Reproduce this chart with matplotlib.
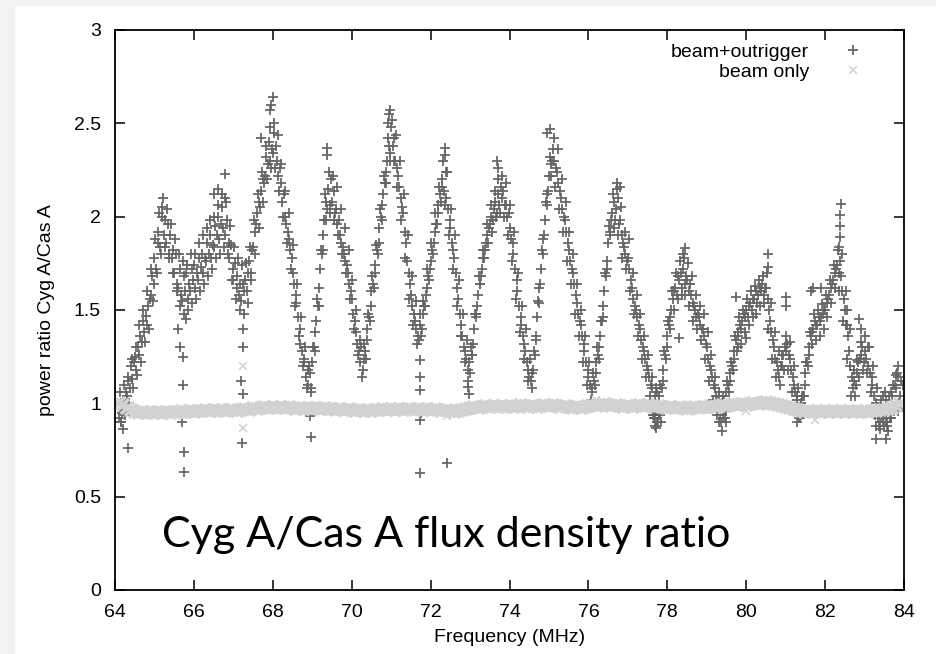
import numpy as np
import matplotlib
matplotlib.use("Agg")
import matplotlib.pyplot as plt
from matplotlib.patches import Rectangle

plt.rcParams['font.family'] = ['Liberation Sans', 'DejaVu Sans']

# sampling grid: every 0.1 MHz, five readings per step
grid_start = 64.1
grid_stop = 83.9
main_offsets = [0.0, 0.04, 0.08]
hi_offset = 0.02
lo_offset = 0.06

# beam+outrigger readings along the trace (three per 0.1 MHz step)
outrigger = [
    # 64.1 - 64.9
    .92, 1.0, .95, 1.02, .96, 1.06, 1.04, 1.12, 1.08, 1.2, 1.13, 1.22, 1.25, 1.18, 1.3,
    1.26, 1.36, 1.33, 1.44, 1.38, 1.47, 1.42, 1.52, 1.56, 1.58, 1.68, 1.64,
    # 65
    1.78, 1.72, 1.86, 1.92, 1.84, 2.0, 2.05, 1.9, 1.98, 1.86, 1.96, 1.8, 1.9, 1.78, 1.82,
    1.7, 1.8, 1.64, 1.62, 1.72, 1.58, 1.55, 1.68, 1.6, 1.7, 1.56, 1.64, 1.6, 1.72, 1.66,
    # 66
    1.74, 1.62, 1.7, 1.66, 1.78, 1.73, 1.8, 1.7, 1.78, 1.76, 1.86, 1.8, 1.9, 1.78, 1.85,
    1.84, 1.95, 1.9, 2.0, 1.88, 1.96, 2.05, 1.94, 2.1, 1.9, 1.98, 1.86, 1.78, 1.85, 1.72,
    # 67
    1.66, 1.75, 1.62, 1.68, 1.58, 1.64, 1.55, 1.64, 1.6, 1.66, 1.6, 1.7, 1.76, 1.7, 1.82,
    1.84, 1.92, 1.96, 2.02, 2.08, 2.05, 2.14, 2.2, 2.18, 2.22, 2.32, 2.28, 2.4, 2.3, 2.36,
    # 68
    2.34, 2.45, 2.38, 2.3, 2.22, 2.26, 2.18, 2.08, 2.12, 2.0, 1.96, 1.92, 1.88, 1.82, 1.78,
    1.7, 1.64, 1.58, 1.54, 1.46, 1.4, 1.32, 1.28, 1.22, 1.24, 1.14, 1.18, 1.1, 1.16, 1.08,
    # 69
    1.22, 1.3, 1.38, 1.44, 1.52, 1.62, 1.72, 1.8, 1.9, 1.98, 2.08, 2.04, 2.15, 2.06, 2.2,
    2.08, 2.14, 2.02, 2.04, 1.96, 1.98, 1.9, 1.86, 1.84, 1.8, 1.76, 1.74, 1.7, 1.64, 1.6,
    # 70
    1.56, 1.48, 1.44, 1.38, 1.32, 1.28, 1.22, 1.3, 1.18, 1.24, 1.28, 1.34, 1.4, 1.46, 1.52,
    1.6, 1.64, 1.7, 1.74, 1.82, 1.86, 1.94, 2.0, 2.06, 2.12, 2.18, 2.24, 2.3, 2.38, 2.34,
    # 71
    2.48, 2.38, 2.42, 2.3, 2.26, 2.22, 2.16, 2.1, 2.05, 2.02, 1.92, 1.86, 1.76, 1.7, 1.64,
    1.58, 1.52, 1.48, 1.44, 1.4, 1.36, 1.34, 1.42, 1.4, 1.48, 1.52, 1.58, 1.62, 1.68, 1.72,
    # 72
    1.76, 1.82, 1.86, 1.92, 1.96, 2.02, 2.06, 2.12, 2.16, 2.2, 2.14, 2.24, 2.1, 2.04, 1.98,
    1.94, 1.86, 1.82, 1.78, 1.7, 1.62, 1.56, 1.48, 1.42, 1.36, 1.3, 1.28, 1.24, 1.18, 1.22,
    # 73
    1.16, 1.26, 1.32, 1.4, 1.46, 1.52, 1.58, 1.64, 1.68, 1.72, 1.78, 1.82, 1.86, 1.9, 1.94,
    1.96, 2.0, 1.98, 2.04, 2.08, 2.02, 2.12, 2.06, 2.16, 2.1, 2.14, 2.06, 2.06, 2.0, 2.02,
    # 74
    1.94, 1.88, 1.86, 1.8, 1.72, 1.66, 1.6, 1.52, 1.46, 1.42, 1.36, 1.32, 1.28, 1.22, 1.18,
    1.14, 1.12, 1.16, 1.18, 1.26, 1.36, 1.46, 1.54, 1.64, 1.72, 1.8, 1.9, 1.98, 2.06, 2.14,
    # 75
    2.22, 2.28, 2.3, 2.36, 2.3, 2.26, 2.24, 2.18, 2.14, 2.1, 2.04, 2.0, 1.98, 1.92, 1.86,
    1.82, 1.76, 1.72, 1.7, 1.64, 1.58, 1.54, 1.48, 1.44, 1.42, 1.36, 1.32, 1.28, 1.22, 1.18,
    # 76
    1.14, 1.1, 1.08, 1.06, 1.12, 1.16, 1.22, 1.26, 1.3, 1.36, 1.44, 1.52, 1.6, 1.68, 1.76,
    1.86, 1.92, 1.98, 2.02, 2.08, 1.98, 2.04, 2.1, 1.96, 1.98, 1.9, 1.86, 1.84, 1.8, 1.76,
    # 77
    1.78, 1.72, 1.66, 1.62, 1.56, 1.52, 1.5, 1.46, 1.42, 1.4, 1.34, 1.3, 1.28, 1.24, 1.2,
    1.18, 1.14, 1.1, 1.08, 0.94, 1.04, 0.92, 1.06, 0.95, 1.04, 0.9, 1.12, 1.18, 1.26, 1.3,
    # 78
    1.36, 1.42, 1.46, 1.5, 1.56, 1.6, 1.62, 1.58, 1.68, 1.66, 1.7, 1.62, 1.72, 1.64, 1.68,
    1.66, 1.6, 1.64, 1.58, 1.54, 1.52, 1.5, 1.46, 1.48, 1.46, 1.42, 1.4, 1.4, 1.36, 1.32,
    # 79
    1.3, 1.24, 1.2, 1.18, 1.14, 1.1, 1.08, 1.04, 1.02, 1.04, 0.94, 1.0, 0.92, 1.02, 0.96,
    1.06, 1.1, 1.12, 1.16, 1.2, 1.24, 1.28, 1.34, 1.36, 1.38, 1.42, 1.4, 1.44, 1.48, 1.46,
    # 80
    1.5, 1.46, 1.52, 1.54, 1.5, 1.56, 1.56, 1.6, 1.54, 1.58, 1.62, 1.6, 1.64, 1.58, 1.62,
    1.62, 1.56, 1.5, 1.44, 1.38, 1.34, 1.3, 1.24, 1.22, 1.18, 1.14, 1.2, 1.2, 1.26, 1.3,
    # 81
    1.28, 1.32, 1.26, 1.24, 1.18, 1.14, 1.1, 1.06, 1.04, 1.02, 0.94, 1.0, 0.96, 1.04, 1.1,
    1.16, 1.22, 1.26, 1.3, 1.36, 1.38, 1.4, 1.44, 1.42, 1.42, 1.46, 1.44, 1.46, 1.48, 1.5,
    # 82
    1.5, 1.54, 1.56, 1.58, 1.62, 1.64, 1.66, 1.7, 1.72, 1.74, 1.7, 1.76, 1.68, 1.6, 1.56,
    1.5, 1.42, 1.36, 1.28, 1.2, 1.14, 1.08, 1.12, 1.1, 1.16, 1.22, 1.24, 1.26, 1.3, 1.22,
    # 83
    1.28, 1.24, 1.3, 1.2, 1.16, 1.14, 1.1, 1.04, 0.98, 1.0, 0.92, 0.96, 0.9, 0.96, 1.04,
    0.94, 1.02, 0.9, 0.98, 0.92, 1.06, 1.04, 0.96, 1.1, 1.08, 1.14, 1.0, 1.04, 0.98, 1.1,
]

# upper fringe of the beam+outrigger band (one per step)
outrigger_hi = [
    1.06, 1.1, 1.14, 1.24, 1.3, 1.42, 1.5, 1.6, 1.72,
    1.88, 2.02, 2.1, 2.04, 1.96, 1.88, 1.8, 1.76, 1.74, 1.8,
    1.8, 1.86, 1.9, 1.94, 1.98, 2.0, 2.06, 2.12, 2.08, 1.95,
    1.84, 1.78, 1.74, 1.75, 1.84, 1.98, 2.12, 2.24, 2.38, 2.48,
    2.5, 2.44, 2.28, 2.14, 2.02, 1.85, 1.64, 1.46, 1.3, 1.2,
    1.3, 1.56, 1.82, 2.12, 2.24, 2.22, 2.16, 2.04, 1.94, 1.82,
    1.66, 1.5, 1.34, 1.32, 1.48, 1.68, 1.85, 2.04, 2.22, 2.42,
    2.52, 2.44, 2.3, 2.12, 1.9, 1.68, 1.55, 1.48, 1.55, 1.72,
    1.86, 2.02, 2.16, 2.3, 2.24, 2.04, 1.9, 1.66, 1.48, 1.34,
    1.3, 1.48, 1.68, 1.82, 1.96, 2.06, 2.14, 2.2, 2.22, 2.18,
    2.06, 1.92, 1.7, 1.52, 1.4, 1.24, 1.28, 1.55, 1.82, 2.08,
    2.32, 2.42, 2.36, 2.2, 2.08, 1.92, 1.8, 1.64, 1.5, 1.36,
    1.22, 1.16, 1.3, 1.44, 1.7, 1.95, 2.12, 2.15, 2.05, 1.92,
    1.88, 1.7, 1.58, 1.48, 1.36, 1.26, 1.14, 1.08, 1.1, 1.28,
    1.44, 1.6, 1.7, 1.76, 1.78, 1.75, 1.68, 1.58, 1.52, 1.48,
    1.38, 1.26, 1.14, 1.06, 1.04, 1.12, 1.22, 1.36, 1.46, 1.5,
    1.56, 1.6, 1.63, 1.66, 1.68, 1.7, 1.54, 1.38, 1.28, 1.26,
    1.36, 1.33, 1.2, 1.08, 1.04, 1.22, 1.38, 1.48, 1.5, 1.53,
    1.58, 1.66, 1.74, 1.82, 1.8, 1.6, 1.4, 1.18, 1.23, 1.33,
    1.36, 1.3, 1.2, 1.08, 1.02, 1.06, 1.04, 1.1, 1.16, 1.12,
]

# lower fringe of the beam+outrigger band (one per step)
outrigger_lo = [
    0.9, 0.94, 1.0, 1.08, 1.15, 1.22, 1.33, 1.4, 1.55,
    1.7, 1.8, 1.84, 1.78, 1.7, 1.6, 1.52, 1.48, 1.5, 1.54,
    1.56, 1.6, 1.64, 1.68, 1.72, 1.78, 1.8, 1.84, 1.8, 1.66,
    1.56, 1.5, 1.48, 1.54, 1.66, 1.8, 1.94, 2.08, 2.2, 2.26,
    2.26, 2.14, 2.0, 1.86, 1.72, 1.52, 1.36, 1.2, 1.08, 1.06,
    1.28, 1.52, 1.82, 1.98, 2.02, 1.98, 1.9, 1.8, 1.7, 1.56,
    1.4, 1.26, 1.14, 1.24, 1.44, 1.62, 1.8, 1.98, 2.18, 2.3,
    2.3, 2.16, 1.98, 1.78, 1.56, 1.42, 1.32, 1.36, 1.52, 1.66,
    1.8, 1.96, 2.08, 2.06, 1.9, 1.72, 1.52, 1.36, 1.22, 1.12,
    1.26, 1.48, 1.64, 1.78, 1.86, 1.92, 2.0, 2.02, 2.0, 1.9,
    1.76, 1.56, 1.38, 1.24, 1.12, 1.08, 1.34, 1.62, 1.88, 2.12,
    2.22, 2.16, 2.04, 1.92, 1.76, 1.64, 1.48, 1.36, 1.22, 1.1,
    1.02, 1.1, 1.24, 1.46, 1.72, 1.9, 1.94, 1.9, 1.78, 1.72,
    1.6, 1.48, 1.36, 1.24, 1.14, 1.04, 0.94, 0.9, 1.08, 1.24,
    1.4, 1.5, 1.56, 1.58, 1.58, 1.52, 1.44, 1.4, 1.34, 1.24,
    1.12, 1.02, 0.94, 0.9, 0.96, 1.06, 1.18, 1.28, 1.32, 1.38,
    1.42, 1.46, 1.48, 1.52, 1.54, 1.4, 1.24, 1.14, 1.1, 1.18,
    1.18, 1.06, 0.96, 0.92, 1.04, 1.2, 1.32, 1.34, 1.36, 1.4,
    1.46, 1.54, 1.62, 1.6, 1.44, 1.24, 1.04, 1.04, 1.14, 1.18,
    1.16, 1.06, 0.94, 0.88, 0.9, 0.88, 0.92, 0.98, 0.96, 0.98,
]

# stray beam+outrigger points off the main trace
stray_freq = [64.32, 64.2, 64.15, 65.73, 65.75, 65.75, 65.6, 65.65, 65.72, 65.8, 65.7,
              66.8, 66.6, 66.5, 67.24, 67.25, 67.24, 67.22, 67.2,
              67.93, 67.96, 68.0, 67.7, 69.37, 69.37, 68.95, 68.97,
              70.95, 70.98, 70.92, 71.73, 71.73, 71.73, 71.73, 71.73, 71.75,
              72.36, 72.37, 72.41, 72.96, 72.97, 73.68, 73.7, 74.95, 75.02, 76.72, 76.8,
              77.7, 77.75, 77.72, 77.66, 77.82, 78.45, 78.4, 78.3,
              79.38, 79.3, 79.45, 79.5, 79.8, 79.75, 80.56, 80.56, 80.0,
              81.0, 81.02, 81.3, 81.35, 81.4, 81.65, 81.7, 81.9,
              82.38, 82.38, 82.38, 82.4, 82.36, 82.55, 82.55, 82.85, 82.9,
              83.3, 83.4, 83.5, 83.55, 83.45, 83.3, 83.55, 83.6, 83.65, 83.85, 83.8]
stray_val = [0.76, 0.86, 0.9, 1.1, 0.74, 0.63, 1.4, 1.3, 1.25, 1.45, 0.9,
             2.23, 2.15, 2.12, 1.3, 1.4, 1.05, 0.79, 1.12,
             2.57, 2.6, 2.64, 2.42, 2.33, 2.37, 0.93, 0.82,
             2.55, 2.57, 2.5, 1.23, 1.14, 1.07, 0.91, 0.625, 0.95,
             2.37, 2.33, 0.68, 1.09, 1.05, 2.3, 2.26, 2.45, 2.47, 2.18, 2.16,
             0.88, 0.9, 0.87, 0.92, 0.94, 1.83, 1.8, 1.35,
             0.85, 0.9, 0.92, 0.9, 1.3, 1.57, 1.73, 1.8, 1.35,
             1.52, 1.57, 0.9, 0.92, 0.94, 1.6, 1.62, 1.62,
             1.89, 1.95, 2.01, 2.07, 1.84, 1.5, 1.42, 1.45, 1.4,
             0.88, 0.86, 0.88, 0.9, 0.93, 0.81, 0.81, 0.85, 0.92, 1.2, 1.15]

# beam only readings (one per 0.1 MHz step)
beam_only = [
    1.0, 0.99, 0.975, 0.965, 0.955, 0.95, 0.955, 0.95, 0.955,
    0.95, 0.955, 0.95, 0.955, 0.95, 0.955, 0.955, 0.96, 0.955, 0.96,
    0.955, 0.96, 0.96, 0.965, 0.96, 0.965, 0.96, 0.965, 0.96, 0.965,
    0.965, 0.96, 0.965, 0.97, 0.965, 0.975, 0.97, 0.975, 0.98, 0.975,
    0.98, 0.975, 0.98, 0.975, 0.98, 0.975, 0.97, 0.975, 0.97, 0.975,
    0.97, 0.975, 0.97, 0.975, 0.97, 0.97, 0.965, 0.97, 0.965, 0.97,
    0.965, 0.96, 0.965, 0.96, 0.965, 0.96, 0.965, 0.965, 0.97, 0.965,
    0.97, 0.965, 0.97, 0.965, 0.97, 0.97, 0.965, 0.97, 0.965, 0.97,
    0.965, 0.97, 0.965, 0.96, 0.965, 0.96, 0.955, 0.96, 0.965, 0.97,
    0.975, 0.98, 0.975, 0.98, 0.985, 0.98, 0.985, 0.98, 0.985, 0.98,
    0.985, 0.98, 0.985, 0.99, 0.985, 0.98, 0.985, 0.98, 0.985, 0.99,
    0.985, 0.99, 0.985, 0.98, 0.985, 0.98, 0.975, 0.98, 0.975, 0.98,
    0.985, 0.99, 0.985, 0.99, 0.995, 0.99, 0.985, 0.99, 0.985, 0.98,
    0.985, 0.98, 0.985, 0.99, 0.985, 0.99, 0.985, 0.98, 0.985, 0.98,
    0.975, 0.98, 0.975, 0.98, 0.975, 0.97, 0.975, 0.98, 0.975, 0.98,
    0.98, 0.985, 0.98, 0.985, 0.99, 0.985, 0.99, 0.995, 0.99, 0.995,
    0.99, 0.995, 1.0, 0.995, 1.0, 1.005, 1.0, 0.995, 0.99, 0.985,
    0.98, 0.975, 0.97, 0.965, 0.96, 0.955, 0.96, 0.955, 0.96, 0.955,
    0.96, 0.955, 0.96, 0.955, 0.96, 0.955, 0.96, 0.955, 0.96, 0.955,
    0.96, 0.955, 0.96, 0.96, 0.965, 0.965, 0.97, 0.975, 0.985, 0.995,
]
beam_stray_freq = [67.24, 67.24, 72.41, 80.0, 81.75, 65.73, 76.2]
beam_stray_val = [1.2, 0.87, 0.93, 0.96, 0.91, 0.94, 1.02]

x_ticks = [64, 66, 68, 70, 72, 74, 76, 78, 80, 82, 84]
y_ticks = [0, 0.5, 1, 1.5, 2, 2.5, 3]
y_tick_labels = ['0', '0.5', '1', '1.5', '2', '2.5', '3']

steps = np.round(np.arange(grid_start, grid_stop + 0.05, 0.1), 2)
out_freq = np.concatenate([np.concatenate([[s + o for o in main_offsets] for s in steps]),
                           steps + hi_offset, steps + lo_offset, stray_freq])
out_val = np.concatenate([outrigger, outrigger_hi, outrigger_lo, stray_val])

fig = plt.figure(figsize=(9.37, 6.54), dpi=100)
# light grey strips on the left and top edge
fig.patches.append(Rectangle((0, 0), 14 / 937, 1, transform=fig.transFigure,
                             color='#f2f2f2', zorder=0))
fig.patches.append(Rectangle((0, 1 - 5 / 654), 1, 5 / 654, transform=fig.transFigure,
                             color='#f2f2f2', zorder=0))

ax = fig.add_axes([115 / 937, 1 - 590 / 654, 789 / 937, 560 / 654])

ax.plot(out_freq, out_val, linestyle='none', marker='+', ms=7, mew=1.25,
        color='#646464', label='beam+outrigger')
ax.plot(steps, beam_only, linestyle='none', marker='x', ms=8, mew=2.6,
        color='#d2d2d2')
ax.plot(beam_stray_freq, beam_stray_val, linestyle='none', marker='x', ms=5.5, mew=1.1,
        color='#d2d2d2', label='beam only')

ax.set_xlim(64, 84)
ax.set_ylim(0, 3)
ax.set_xticks(x_ticks)
ax.set_yticks(y_ticks)
ax.set_xticklabels([str(t) for t in x_ticks])
ax.set_yticklabels(y_tick_labels)
ax.tick_params(direction='in', length=7, width=1.1, top=True, right=True,
               labelsize=14, pad=10)
for s in ax.spines.values():
    s.set_linewidth(1.3)

ax.set_xlabel('Frequency (MHz)', fontsize=14, labelpad=6)
ax.set_ylabel('power ratio Cyg A/Cas A', fontsize=14, labelpad=14)

ax.legend(loc='upper right', frameon=False, markerfirst=False, fontsize=14,
          handlelength=1.2, handletextpad=1.7, labelspacing=0.1,
          borderaxespad=0.3, bbox_to_anchor=(0.968, 1.0))

ax.text(0.06, 0.077, 'Cyg A/Cas A flux density ratio', transform=ax.transAxes,
        fontsize=31, family=['Lato', 'DejaVu Sans'], ha='left', va='baseline',
        color='black')

fig.savefig('out.png', dpi=100)
